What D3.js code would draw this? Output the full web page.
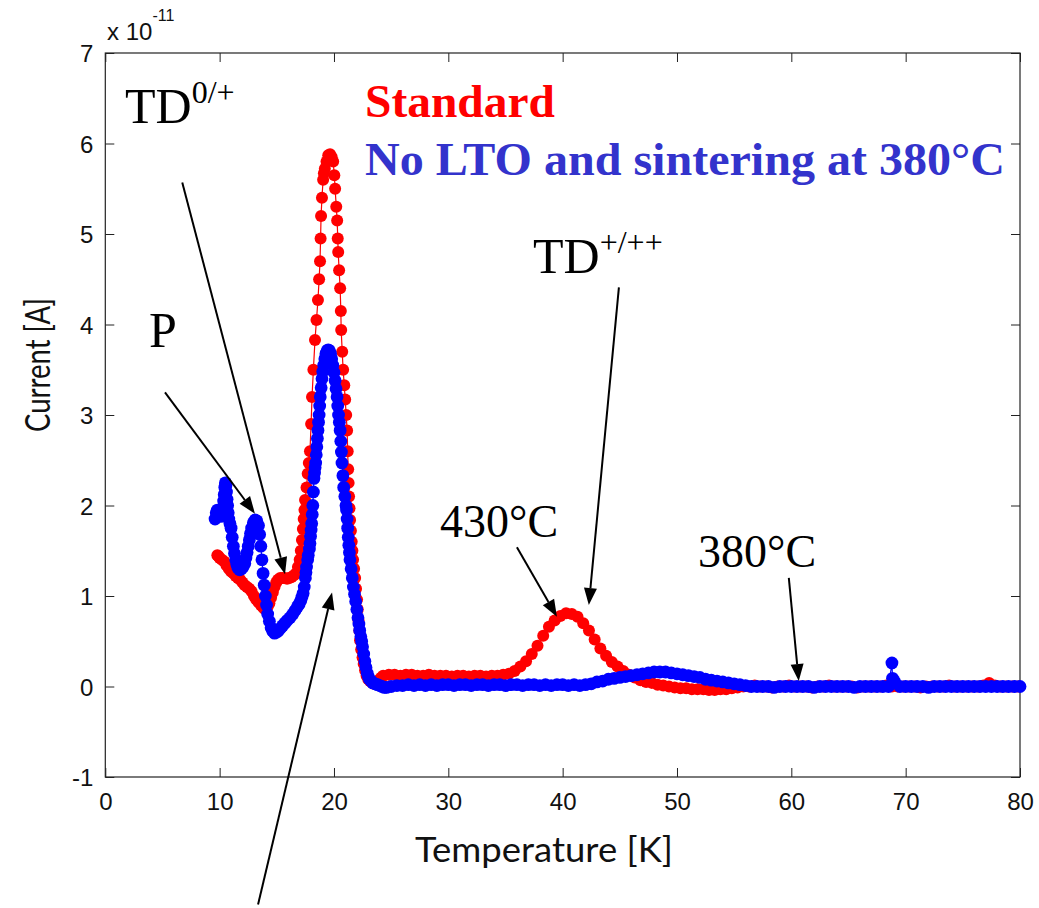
<!DOCTYPE html>
<html>
<head>
<meta charset="utf-8">
<script src="https://cdn.jsdelivr.net/npm/d3@7"></script>
<style>
  html, body { margin: 0; padding: 0; background: #ffffff; }
  svg { display: block; }
</style>
</head>
<body>
<svg id="chart" width="1039" height="908"></svg>
<script>
// ---------------- data: [temperature K, current in 1e-11 A] ----------------
const xTicks = [0, 10, 20, 30, 40, 50, 60, 70, 80];
const yTicks = [-1, 0, 1, 2, 3, 4, 5, 6, 7];

const standardSeries = [
  [9.8,1.45],[9.9,1.44],[10.0,1.42],[10.2,1.40],[10.4,1.38],[10.6,1.34],[10.8,1.30],[11.0,1.27],
  [11.2,1.25],[11.4,1.22],[11.6,1.20],[11.8,1.18],[12.0,1.15],[12.2,1.12],[12.4,1.10],[12.6,1.08],
  [12.8,1.05],[13.0,1.00],[13.2,0.96],[13.4,0.93],[13.6,0.90],[13.75,0.88],[13.9,0.86],[14.05,0.87],
  [14.2,0.88],[14.35,0.92],[14.5,0.98],[14.65,1.04],[14.8,1.10],[14.95,1.15],[15.1,1.18],[15.3,1.20],
  [15.5,1.20],[15.7,1.20],[15.9,1.19],[16.1,1.20],[16.3,1.21],[16.5,1.23],[16.7,1.25],[16.85,1.32],
  [17.0,1.40],[17.1,1.50],[17.2,1.62],[17.28,1.74],[17.35,1.85],[17.42,1.95],[17.47,2.06],[17.6,2.20],
  [17.7,2.35],[17.8,2.47],[17.9,2.60],[18.0,2.90],[18.08,3.20],[18.2,3.50],[18.34,3.83],[18.47,4.05],
  [18.6,4.27],[18.7,4.50],[18.78,4.70],[18.83,4.95],[18.87,5.20],[18.95,5.40],[19.05,5.60],[19.12,5.67],
  [19.2,5.72],[19.35,5.80],[19.5,5.87],[19.66,5.88],[19.8,5.85],[19.93,5.80],[20.03,5.65],[20.1,5.50],
  [20.2,5.30],[20.28,5.15],[20.33,4.95],[20.37,4.80],[20.45,4.60],[20.54,4.40],[20.6,4.15],[20.63,3.94],
  [20.72,3.70],[20.8,3.50],[20.9,3.33],[20.98,3.17],[21.07,3.00],[21.15,2.83],[21.2,2.60],[21.24,2.40],
  [21.28,2.25],[21.32,2.10],[21.36,1.97],[21.41,1.84],[21.48,1.72],[21.55,1.60],[21.61,1.50],[21.67,1.40],
  [21.76,1.30],[21.85,1.20],[21.93,1.08],[22.02,0.96],[22.08,0.85],[22.15,0.73],[22.22,0.62],[22.28,0.51],
  [22.38,0.41],[22.5,0.32],[22.6,0.25],[22.72,0.18],[22.85,0.12],[23.0,0.08],[23.15,0.06],[23.33,0.04],
  [23.5,0.03],[23.7,0.03],[23.85,0.05],[24.0,0.08],[24.15,0.10],[24.3,0.12],[24.8,0.13],[25.3,0.13],
  [25.8,0.12],[26.3,0.13],[26.8,0.13],[27.3,0.12],[27.8,0.12],[28.3,0.13],[28.8,0.12],[29.3,0.12],
  [29.8,0.12],[30.3,0.11],[30.8,0.12],[31.3,0.12],[31.8,0.11],[32.3,0.12],[32.8,0.12],[33.3,0.11],
  [33.8,0.12],[34.3,0.12],[34.8,0.13],[35.3,0.14],[35.8,0.17],[36.3,0.22],[36.8,0.28],[37.3,0.36],
  [37.8,0.45],[38.3,0.56],[38.8,0.66],[39.3,0.73],[39.8,0.78],[40.3,0.81],[40.8,0.80],[41.3,0.77],
  [41.8,0.70],[42.3,0.62],[42.8,0.52],[43.3,0.42],[43.8,0.34],[44.3,0.27],[44.8,0.22],[45.3,0.17],
  [45.8,0.13],[46.3,0.10],[46.8,0.07],[47.3,0.05],[47.8,0.04],[48.3,0.02],[48.8,0.01],[49.3,0.00],
  [49.8,-0.01],[50.3,-0.02],[50.8,-0.02],[51.3,-0.03],[51.8,-0.03],[52.3,-0.03],[52.8,-0.04],[53.3,-0.04],
  [53.8,-0.03],[54.3,-0.03],[54.8,-0.02],[55.3,-0.01],[55.8,0.00],[56.3,0.00],[56.8,0.01],[57.3,0.00],
  [57.8,0.00],[58.3,-0.01],[58.8,0.00],[59.3,0.00],[59.8,0.01],[60.3,0.00],[60.8,0.00],[61.3,0.00],
  [61.8,-0.01],[62.3,0.00],[62.8,0.00],[63.3,0.01],[63.8,0.00],[64.3,0.00],[64.8,0.00],[65.3,0.00],
  [65.8,-0.01],[66.3,0.00],[66.8,0.00],[67.3,0.00],[67.8,0.00],[68.3,0.01],[68.8,0.00],[69.3,0.00],
  [69.8,0.00],[70.3,0.00],[70.8,0.00],[71.3,-0.01],[71.8,0.00],[72.3,0.00],[72.8,0.00],[73.3,0.00],
  [73.8,0.01],[74.3,0.00],[74.8,0.00],[75.3,0.00],[75.8,0.00],[76.3,0.00],[76.8,0.01],[77.3,0.04],
  [77.8,0.01],[78.3,0.00],[78.8,0.00],[79.3,0.00],[79.8,0.00]
];

const noLtoSeries = [
  [9.6,1.85],[9.7,1.92],[9.8,1.95],[9.9,1.93],[10.0,1.90],[10.1,1.88],[10.2,1.90],[10.3,1.98],
  [10.35,2.05],[10.4,2.12],[10.45,2.20],[10.5,2.25],[10.55,2.22],[10.6,2.15],[10.65,2.07],[10.7,2.00],
  [10.75,1.92],[10.8,1.85],[10.9,1.80],[11.0,1.75],[11.1,1.65],[11.2,1.55],[11.3,1.47],[11.4,1.40],
  [11.5,1.35],[11.6,1.31],[11.75,1.29],[11.9,1.30],[12.05,1.32],[12.2,1.36],[12.3,1.42],[12.4,1.48],
  [12.5,1.55],[12.6,1.62],[12.7,1.69],[12.8,1.75],[12.95,1.81],[13.1,1.84],[13.25,1.83],[13.4,1.78],
  [13.5,1.68],[13.6,1.55],[13.7,1.40],[13.8,1.25],[13.9,1.12],[14.0,1.00],[14.1,0.90],[14.2,0.80],
  [14.35,0.72],[14.5,0.65],[14.65,0.61],[14.8,0.59],[14.95,0.60],[15.1,0.61],[15.3,0.64],[15.5,0.67],
  [15.7,0.70],[15.9,0.73],[16.15,0.76],[16.4,0.80],[16.6,0.84],[16.8,0.88],[16.95,0.91],[17.1,0.95],
  [17.2,0.99],[17.3,1.03],[17.4,1.10],[17.5,1.20],[17.55,1.26],[17.6,1.32],[17.7,1.40],[17.75,1.45],
  [17.85,1.52],[17.9,1.58],[17.95,1.66],[18.0,1.73],[18.05,1.80],[18.1,1.90],[18.15,2.00],[18.2,2.15],
  [18.25,2.30],[18.3,2.36],[18.35,2.42],[18.4,2.47],[18.45,2.56],[18.5,2.65],[18.55,2.74],[18.6,2.83],
  [18.65,2.92],[18.7,3.00],[18.75,3.10],[18.8,3.20],[18.88,3.30],[18.95,3.40],[19.02,3.48],[19.1,3.55],
  [19.2,3.62],[19.3,3.68],[19.4,3.71],[19.5,3.72],[19.6,3.71],[19.7,3.68],[19.8,3.62],[19.9,3.55],
  [20.0,3.47],[20.1,3.38],[20.18,3.29],[20.27,3.20],[20.33,3.10],[20.4,3.00],[20.47,2.92],[20.54,2.83],
  [20.6,2.71],[20.65,2.59],[20.7,2.47],[20.78,2.33],[20.85,2.20],[20.95,2.10],[21.05,2.00],[21.1,1.95],
  [21.15,1.85],[21.2,1.75],[21.25,1.65],[21.3,1.56],[21.35,1.48],[21.4,1.40],[21.5,1.30],[21.6,1.20],
  [21.7,1.10],[21.8,1.02],[21.9,0.94],[22.0,0.85],[22.1,0.76],[22.18,0.69],[22.25,0.62],[22.35,0.55],
  [22.42,0.50],[22.5,0.44],[22.6,0.36],[22.7,0.28],[22.8,0.21],[22.9,0.15],[23.0,0.11],[23.1,0.08],
  [23.25,0.06],[23.4,0.04],[23.6,0.03],[23.8,0.02],[24.0,0.01],[24.2,0.00],[24.4,-0.01],[24.6,-0.01],
  [25.0,0.00],[25.5,0.01],[26.0,0.01],[26.5,0.02],[27.0,0.01],[27.5,0.02],[28.0,0.01],[28.5,0.02],
  [29.0,0.01],[29.5,0.02],[30.0,0.02],[30.5,0.01],[31.0,0.02],[31.5,0.02],[32.0,0.01],[32.5,0.02],
  [33.0,0.02],[33.5,0.01],[34.0,0.02],[34.5,0.02],[35.0,0.01],[35.5,0.02],[36.0,0.02],[36.5,0.01],
  [37.0,0.02],[37.5,0.02],[38.0,0.01],[38.5,0.02],[39.0,0.01],[39.5,0.02],[40.0,0.02],[40.5,0.01],
  [41.0,0.02],[41.5,0.01],[42.0,0.02],[42.5,0.03],[43.0,0.05],[43.5,0.06],[44.0,0.08],[44.5,0.09],
  [45.0,0.10],[45.5,0.11],[46.0,0.12],[46.5,0.13],[47.0,0.14],[47.5,0.15],[48.0,0.16],[48.5,0.16],
  [49.0,0.16],[49.5,0.15],[50.0,0.14],[50.5,0.13],[51.0,0.12],[51.5,0.11],[52.0,0.10],[52.5,0.08],
  [53.0,0.07],[53.5,0.06],[54.0,0.05],[54.5,0.04],[55.0,0.03],[55.5,0.02],[56.0,0.01],[56.5,0.00],
  [57.0,0.00],[57.5,0.00],[58.0,0.00],[58.5,-0.01],[59.0,0.00],[59.5,0.00],[60.0,0.00],[60.5,0.00],
  [61.0,0.00],[61.5,0.00],[62.0,-0.01],[62.5,0.00],[63.0,0.00],[63.5,0.00],[64.0,0.00],[64.5,0.00],
  [65.0,0.00],[65.5,-0.01],[66.0,0.00],[66.5,0.00],[67.0,0.00],[67.5,0.00],[68.0,0.00],[68.5,0.00],
  [68.8,0.26],[68.85,0.09],[69.0,0.06],[69.5,0.00],[70.0,0.00],[70.5,0.00],[71.0,0.00],[71.5,0.00],
  [72.0,-0.01],[72.5,0.00],[73.0,0.00],[73.5,0.00],[74.0,0.00],[74.5,0.00],[75.0,0.00],[75.5,0.00],
  [76.0,0.00],[76.5,0.00],[77.0,0.00],[77.5,0.00],[78.0,0.00],[78.5,0.00],[79.0,0.00],[79.5,0.00],
  [80.0,0.00]
];

// annotation arrows in data units: [temperature, current]
const arrowFrom = [[5.22, 3.25], [6.73, 5.57], [13.36, -2.41], [36.0, 1.54], [44.92, 4.41], [59.78, 1.20]];
const arrowTo   = [[13.09, 1.91], [15.72, 1.24], [19.83, 1.04], [39.5, 0.77], [42.29, 0.90], [60.65, 0.06]];

// ---------------- drawing ----------------
const svg = d3.select("#chart");
const W = 1039, H = 908;
const plotLeft = 105.3, plotRight = 1020, plotTop = 53, plotBottom = 777;

const x = d3.scaleLinear().domain([0, 80]).range([plotLeft, plotRight]);
const y = d3.scaleLinear().domain([-1, 7]).range([plotBottom, plotTop]);

svg.append("rect").attr("width", W).attr("height", H).attr("fill", "#ffffff");

const tickFont = "'Liberation Sans', Arial, sans-serif";
const plainFmt = d => String(d);

// axes (ticks inward, MATLAB style)
const gB = svg.append("g").attr("transform", `translate(0,${plotBottom})`)
  .call(d3.axisBottom(x).tickValues(xTicks).tickSizeInner(-9).tickSizeOuter(0).tickPadding(16).tickFormat(plainFmt));
const gT = svg.append("g").attr("transform", `translate(0,${plotTop})`)
  .call(d3.axisTop(x).tickValues(xTicks).tickSizeInner(-9).tickSizeOuter(0).tickFormat(""));
const gL = svg.append("g").attr("transform", `translate(${plotLeft},0)`)
  .call(d3.axisLeft(y).tickValues(yTicks).tickSizeInner(-9).tickSizeOuter(0).tickPadding(12).tickFormat(plainFmt));
const gR = svg.append("g").attr("transform", `translate(${plotRight},0)`)
  .call(d3.axisRight(y).tickValues(yTicks).tickSizeInner(-9).tickSizeOuter(0).tickFormat(""));

[gB, gT, gL, gR].forEach(g => {
  g.select(".domain").remove();
  g.selectAll(".tick line").attr("stroke", "#222").attr("stroke-width", 1);
  g.selectAll(".tick text").attr("font-family", tickFont).attr("font-size", 24).attr("fill", "#111");
});
gL.selectAll(".tick text").attr("dy", "0.36em");

svg.append("rect")
  .attr("x", plotLeft).attr("y", plotTop)
  .attr("width", plotRight - plotLeft).attr("height", plotBottom - plotTop)
  .attr("fill", "none").attr("stroke", "#222").attr("stroke-width", 1.2);

// exponent label
const expo = svg.append("text").attr("x", 107).attr("y", 40)
  .attr("font-family", tickFont).attr("font-size", 24).attr("fill", "#111");
expo.append("tspan").text("x 10");
expo.append("tspan").attr("font-size", 16).attr("dy", -19).text("-11");

// axis labels
svg.append("text").attr("x", 544).attr("y", 862)
  .attr("text-anchor", "middle").attr("font-family", "Lato, 'Liberation Sans', sans-serif")
  .attr("font-size", 35).attr("fill", "#111")
  .attr("textLength", 258).attr("lengthAdjust", "spacingAndGlyphs")
  .text("Temperature [K]");
svg.append("text")
  .attr("transform", "translate(50,365) rotate(-90)")
  .attr("text-anchor", "middle").attr("font-family", "Lato, 'Liberation Sans', sans-serif")
  .attr("font-size", 35).attr("fill", "#111")
  .attr("textLength", 134).attr("lengthAdjust", "spacingAndGlyphs")
  .text("Current [A]");

// series
const line = d3.line().x(d => x(d[0])).y(d => y(d[1]));
function drawSeries(data, color, r) {
  const g = svg.append("g");
  g.append("path").datum(data).attr("d", line)
    .attr("fill", "none").attr("stroke", color).attr("stroke-width", 1.2);
  g.selectAll("circle").data(data).join("circle")
    .attr("cx", d => x(d[0])).attr("cy", d => y(d[1])).attr("r", r)
    .attr("fill", color);
}
drawSeries(standardSeries, "#ff0000", 6);
drawSeries(noLtoSeries, "#0000ff", 6.4);

// arrows
arrowFrom.forEach((f, i) => {
  const to = arrowTo[i];
  const x1 = x(f[0]), y1 = y(f[1]), x2 = x(to[0]), y2 = y(to[1]);
  const ang = Math.atan2(y2 - y1, x2 - x1);
  const L = 17, Wd = 6.5;
  const bx = x2 - L * Math.cos(ang), by = y2 - L * Math.sin(ang);
  svg.append("line").attr("x1", x1).attr("y1", y1).attr("x2", bx).attr("y2", by)
    .attr("stroke", "#000").attr("stroke-width", 2);
  const p1 = [bx + Wd * Math.sin(ang), by - Wd * Math.cos(ang)];
  const p2 = [bx - Wd * Math.sin(ang), by + Wd * Math.cos(ang)];
  svg.append("polygon").attr("points", [[x2, y2], p1, p2].map(p => p.join(",")).join(" "))
    .attr("fill", "#000");
});

// annotation texts
const serif = "'Liberation Serif', 'Times New Roman', serif";
function supLabel(xp, yp, main, sup, size, supSize, supDy) {
  const t = svg.append("text").attr("x", xp).attr("y", yp)
    .attr("font-family", serif).attr("font-size", size).attr("fill", "#000");
  t.append("tspan").text(main);
  if (sup) t.append("tspan").attr("font-size", supSize).attr("dy", supDy).text(sup);
}
supLabel(125, 123, "TD", "0/+", 50, 32, -20);
supLabel(149, 347, "P", null, 50);
supLabel(533, 273, "TD", "+/++", 50, 32, -20);
supLabel(440, 537, "430°C", null, 46);
supLabel(698, 567, "380°C", null, 46);

svg.append("text").attr("x", 365).attr("y", 117)
  .attr("font-family", serif).attr("font-weight", "bold").attr("font-size", 46)
  .attr("fill", "#ff0000").attr("textLength", 190).attr("lengthAdjust", "spacingAndGlyphs")
  .text("Standard");
svg.append("text").attr("x", 365).attr("y", 175)
  .attr("font-family", serif).attr("font-weight", "bold").attr("font-size", 46)
  .attr("fill", "#3333cc").attr("textLength", 640).attr("lengthAdjust", "spacingAndGlyphs")
  .text("No LTO and sintering at 380°C");
</script>
</body>
</html>
